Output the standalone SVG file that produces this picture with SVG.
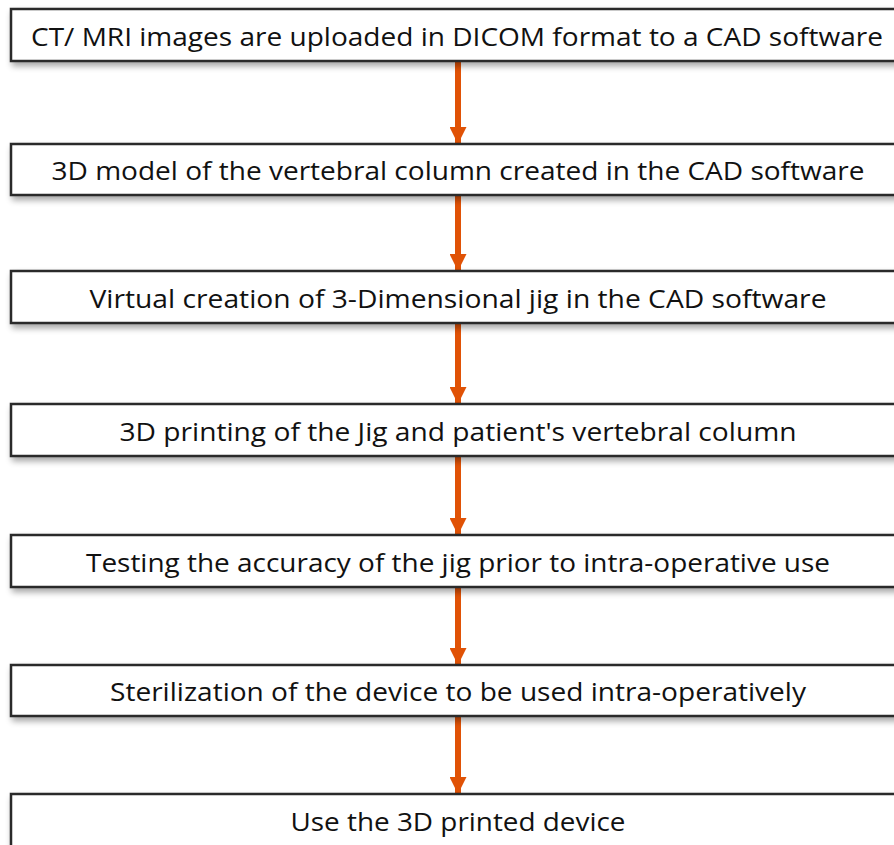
<svg xmlns="http://www.w3.org/2000/svg" width="894" height="845" viewBox="0 0 894 845">
<defs>
<filter id="sh" x="-5%" y="-30%" width="110%" height="170%">
<feGaussianBlur in="SourceAlpha" stdDeviation="3"/>
<feOffset dx="2" dy="4" result="b"/>
<feComponentTransfer><feFuncA type="linear" slope="0.35"/></feComponentTransfer>
<feMerge><feMergeNode/><feMergeNode in="SourceGraphic"/></feMerge>
</filter>
<marker id="ah" viewBox="0 0 17 17" markerWidth="17" markerHeight="17" refX="17" refY="8.5" orient="auto" markerUnits="userSpaceOnUse">
<path d="M0,0 L17,8.5 L0,17 Z" fill="#E05206"/>
</marker>
</defs>
<style>
.box{fill:#fff;stroke:#2b2b2b;stroke-width:2.5;filter:url(#sh)}
.t{font-family:"Open Sans","Noto Sans","Liberation Sans",sans-serif;font-size:26px;fill:#111;text-anchor:middle}
.c{stroke:#E05206;stroke-width:6;fill:none;marker-end:url(#ah)}
</style>
<rect width="894" height="845" fill="#fff"/>
<g id="connectors">
<line class="c" x1="458" y1="62" x2="458" y2="144"/>
<line class="c" x1="458" y1="196" x2="458" y2="271"/>
<line class="c" x1="458" y1="324" x2="458" y2="404"/>
<line class="c" x1="458" y1="457" x2="458" y2="535"/>
<line class="c" x1="458" y1="588" x2="458" y2="665"/>
<line class="c" x1="458" y1="717" x2="458" y2="794"/>
</g>
<g id="n1"><rect class="box" x="11" y="9" width="895" height="52"/><text class="t" x="457" y="46" textLength="852" lengthAdjust="spacingAndGlyphs">CT/ MRI images are uploaded in DICOM format to a CAD software</text></g>
<g id="n2"><rect class="box" x="11" y="144" width="895" height="51"/><text class="t" x="458" y="180" textLength="813" lengthAdjust="spacingAndGlyphs">3D model of the vertebral column created in the CAD software</text></g>
<g id="n3"><rect class="box" x="11" y="271" width="895" height="52"/><text class="t" x="458" y="308" textLength="737" lengthAdjust="spacingAndGlyphs">Virtual creation of 3-Dimensional jig in the CAD software</text></g>
<g id="n4"><rect class="box" x="11" y="404" width="895" height="52"/><text class="t" x="458" y="441" textLength="677" lengthAdjust="spacingAndGlyphs">3D printing of the Jig and patient's vertebral column</text></g>
<g id="n5"><rect class="box" x="11" y="535" width="895" height="52"/><text class="t" x="458" y="572" textLength="744" lengthAdjust="spacingAndGlyphs">Testing the accuracy of the jig prior to intra-operative use</text></g>
<g id="n6"><rect class="box" x="11" y="665" width="895" height="51"/><text class="t" x="458" y="701" textLength="696" lengthAdjust="spacingAndGlyphs">Sterilization of the device to be used intra-operatively</text></g>
<g id="n7"><rect class="box" x="11" y="794" width="895" height="70"/><text class="t" x="458" y="831" textLength="335" lengthAdjust="spacingAndGlyphs">Use the 3D printed device</text></g>
</svg>
